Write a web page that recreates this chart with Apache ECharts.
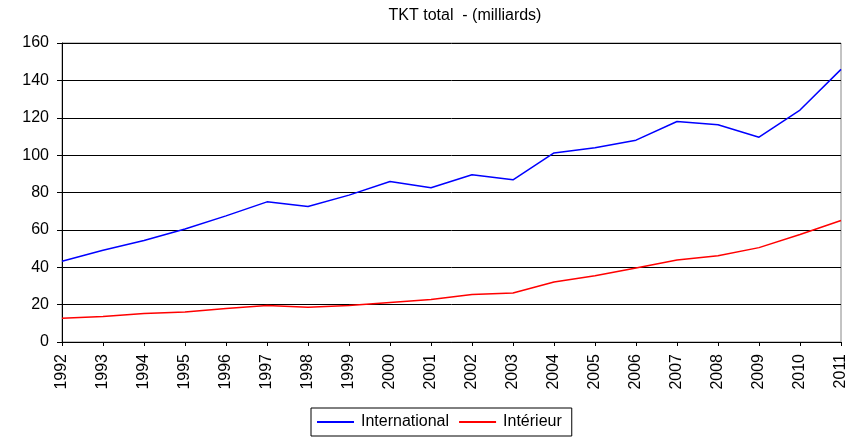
<!DOCTYPE html>
<html>
<head>
<meta charset="utf-8">
<script src="https://cdn.jsdelivr.net/npm/echarts@6/dist/echarts.min.js"></script>
<style>
  html, body { margin: 0; padding: 0; background: #fff; }
  #chart { width: 852px; height: 439px; }
</style>
</head>
<body>
<div id="chart"></div>
<script>
var years = ['1992','1993','1994','1995','1996','1997','1998','1999','2000','2001',
             '2002','2003','2004','2005','2006','2007','2008','2009','2010','2011'];
var international = [43.2, 49.1, 54.3, 60.5, 67.5, 75.0, 72.5, 78.6, 85.9, 82.5,
                     89.5, 86.8, 101.2, 103.9, 108.0, 118.0, 116.3, 109.6, 124.1, 145.9];
var interieur = [12.7, 13.7, 15.2, 16.1, 17.9, 19.5, 18.6, 19.5, 21.1, 22.7,
                 25.4, 26.2, 32.1, 35.4, 39.6, 43.9, 46.2, 50.5, 57.5, 65.0];

var myChart = echarts.init(document.getElementById('chart'));
var font = 'Liberation Sans, Arial, sans-serif';

myChart.setOption({
    animation: false,
    title: {
        text: 'TKT total  - (milliards)',
        left: 460,
        textAlign: 'center',
        top: 3,
        textStyle: { fontFamily: font, fontSize: 16, fontWeight: 'normal', color: '#000' }
    },
    grid: {
        left: 62, right: 11, top: 43, bottom: 97,
        show: true, borderColor: '#888', borderWidth: 1
    },
    legend: {
        left: 311, top: 408,
        data: ['International', 'Intérieur'],
        borderColor: '#000', borderWidth: 1, borderRadius: 0,
        padding: [6, 10, 6, 6],
        itemGap: 10,
        itemWidth: 37, itemHeight: 2,
        icon: 'rect',
        textStyle: { fontFamily: font, fontSize: 16, color: '#000', padding: [0, 0, 0, 2] }
    },
    xAxis: {
        type: 'category',
        data: years,
        boundaryGap: false,
        axisLine: { lineStyle: { color: '#000', width: 1 } },
        axisTick: { show: true, alignWithLabel: true, length: 4, lineStyle: { color: '#000' } },
        axisLabel: { rotate: 90, fontFamily: font, fontSize: 16, color: '#000', margin: 12, interval: 0 },
        splitLine: { show: false }
    },
    yAxis: {
        type: 'value',
        min: 0, max: 160, interval: 20,
        axisLine: { show: true, lineStyle: { color: '#000', width: 1 } },
        axisTick: { show: true, length: 5, lineStyle: { color: '#000' } },
        axisLabel: { fontFamily: font, fontSize: 16, color: '#000', margin: 13 },
        splitLine: { lineStyle: { color: '#000', width: 1 } }
    },
    series: [{
        name: 'International',
        type: 'line',
        data: international,
        symbol: 'none',
        lineStyle: { color: '#0000ff', width: 1.5 },
        itemStyle: { color: '#0000ff' }
    }, {
        name: 'Intérieur',
        type: 'line',
        data: interieur,
        symbol: 'none',
        lineStyle: { color: '#ff0000', width: 1.5 },
        itemStyle: { color: '#ff0000' }
    }]
});
</script>
</body>
</html>
